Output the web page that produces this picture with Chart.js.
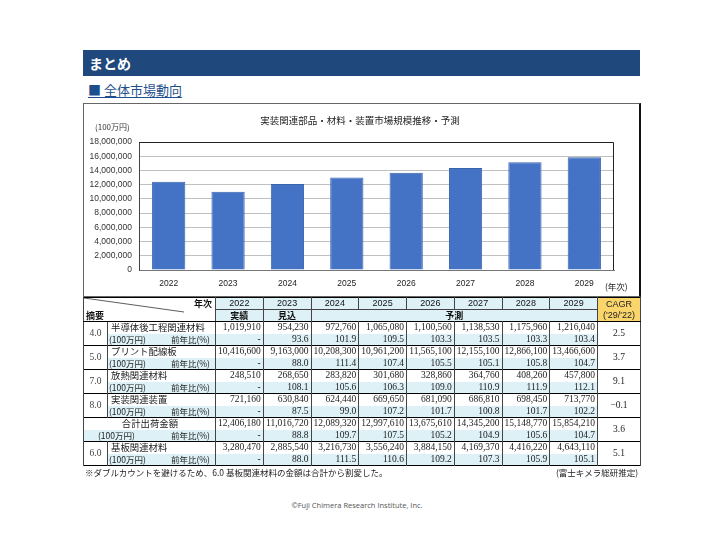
<!DOCTYPE html>
<html><head><meta charset="utf-8">
<script src="https://cdn.jsdelivr.net/npm/chart.js@4/dist/chart.umd.min.js"></script>
<style>
html,body{margin:0;padding:0;background:#fff;}
#page{position:relative;width:720px;height:540px;overflow:hidden;font-family:"Noto Sans CJK JP",sans-serif;}
.abs{position:absolute;white-space:nowrap;}
#bar{left:83px;top:50px;width:557px;height:26px;background:#1f497d;}
#bar span{position:absolute;left:6px;top:3px;color:#fff;font-weight:bold;font-size:14px;line-height:20px;}
#sub{left:88px;top:81px;font-size:13px;line-height:17px;color:#1f4e8c;text-decoration:underline;text-underline-offset:2px;}
#frame{left:83px;top:103px;width:555px;height:192px;border:1px solid #666;border-right:2px solid #111;}
#cv{position:absolute;left:84px;top:104px;}
#ctitle{left:250px;width:220px;text-align:center;top:113px;font-size:9.5px;color:#222;}
#unit{left:95px;top:121px;font-size:8px;color:#333;}
#nenji{left:605px;top:280px;font-size:8.5px;color:#222;}
#tbl{position:absolute;left:83px;top:297px;width:557px;border-collapse:collapse;table-layout:fixed;border:1.5px solid #000;}
#tbl td{padding:0 2px;height:11.5px;line-height:11px;font-size:9px;overflow:hidden;white-space:nowrap;border-left:1px solid #444;border-right:1px solid #444;}
#tbl tr.hr td{height:11px;line-height:11px;}
#tbl td.num{font-family:"Liberation Serif",serif;text-align:right;font-size:9.5px;color:#222;}
#tbl td.yoy{background:#ddf1f7;}
#tbl tr.g1 td{border-top:1.5px solid #000;}
#tbl td.hy{background:#ddf1f7;text-align:center;font-family:"Liberation Sans",Arial,sans-serif;font-size:9px;color:#111;border-bottom:1px solid #444;}
#tbl td.hs{background:#ddf1f7;text-align:center;font-weight:bold;font-size:9px;color:#111;}
#tbl td.cagrh{background:#fad56b;text-align:center;font-family:"Liberation Sans",Arial,sans-serif;font-size:9px;line-height:11px;color:#222;}
#tbl td.cagr{text-align:center;font-family:"Liberation Serif",serif;font-size:9.5px;color:#222;background:#fff;}
#tbl td.gn{text-align:center;font-family:"Liberation Serif",serif;font-size:9.5px;color:#444;}
#tbl td.name{color:#222;font-size:9.4px;padding-left:3px;border-right:1px solid #444;}
#tbl td.unitc{font-size:8.5px;color:#222;padding-left:1px;}
#tbl td.unitc span.r{float:right;padding-right:3px;}
#tbl td.unitc.yoyl{background:#ddf1f7;}
#foot{left:85px;top:466px;font-size:8.5px;color:#222;}
#foot2{left:556px;top:466px;font-size:8.5px;color:#222;}
#copy{left:0;width:714px;text-align:center;top:500px;font-size:7.5px;color:#555;font-family:"Open Sans",sans-serif;}
</style></head>
<body><div id="page">
<div id="bar" class="abs"><span>まとめ</span></div>
<div id="sub" class="abs">■ 全体市場動向</div>
<div id="frame" class="abs"></div>
<canvas id="cv" width="555" height="191"></canvas>
<div id="ctitle" class="abs">実装関連部品・材料・装置市場規模推移・予測</div>
<div id="unit" class="abs">(100万円)</div>
<div id="nenji" class="abs">(年次)</div>
<table id="tbl"></table>
<div id="foot" class="abs">※ダブルカウントを避けるため、6.0 基板関連材料の金額は合計から割愛した。</div>
<div id="foot2" class="abs">(富士キメラ総研推定)</div>
<div id="copy" class="abs">©Fuji Chimera Research Institute, Inc.</div>
</div>
<script>
// ---- data ----
const years = ['2022','2023','2024','2025','2026','2027','2028','2029'];
const statusLabels = ['実績','見込','予測'];
const yTicksMax = 18000000;
const yTicksStep = 2000000;

const semiName = '半導体後工程関連材料';
const semiValues = [1019910, 954230, 972760, 1065080, 1100560, 1138530, 1175960, 1216040];
const semiYoy = [null, 93.6, 101.9, 109.5, 103.3, 103.5, 103.3, 103.4];
const semiCagr = '2.5';

const pcbName = 'プリント配線板';
const pcbValues = [10416600, 9163000, 10208300, 10961200, 11565100, 12155100, 12866100, 13466600];
const pcbYoy = [null, 88.0, 111.4, 107.4, 105.5, 105.1, 105.8, 104.7];
const pcbCagr = '3.7';

const thermalName = '放熱関連材料';
const thermalValues = [248510, 268650, 283820, 301680, 328860, 364760, 408260, 457800];
const thermalYoy = [null, 108.1, 105.6, 106.3, 109.0, 110.9, 111.9, 112.1];
const thermalCagr = '9.1';

const equipName = '実装関連装置';
const equipValues = [721160, 630840, 624440, 669650, 681090, 686810, 698450, 713770];
const equipYoy = [null, 87.5, 99.0, 107.2, 101.7, 100.8, 101.7, 102.2];
const equipCagr = '−0.1';

const totalName = '合計出荷金額';
const totalValues = [12406180, 11016720, 12089320, 12997610, 13675610, 14345200, 15148770, 15854210];
const totalYoy = [null, 88.8, 109.7, 107.5, 105.2, 104.9, 105.6, 104.7];
const totalCagr = '3.6';

const substrateName = '基板関連材料';
const substrateValues = [3280470, 2885540, 3216730, 3556240, 3884150, 4169370, 4416220, 4643110];
const substrateYoy = [null, 88.0, 111.5, 110.6, 109.2, 107.3, 105.9, 105.1];
const substrateCagr = '5.1';

// ---- table ----
const fmt = v => v.toLocaleString('en-US');
const fy = v => v === null ? '-' : v.toFixed(1);
let h = '<colgroup><col style="width:24px"><col style="width:108px">';
for (let i = 0; i < 8; i++) h += '<col style="width:47.75px">';
h += '<col style="width:43px"></colgroup>';
h += '<tr class="hr"><td colspan="2" rowspan="2" style="position:relative;padding:0;height:23px;border-bottom:1.5px solid #000">' +
  '<svg width="132" height="23" style="position:absolute;left:0;top:0"><line x1="0" y1="0" x2="100" y2="14" stroke="#333" stroke-width="0.8"/></svg>' +
  '<span style="position:absolute;right:3px;top:0;font-weight:bold;font-size:9px;line-height:11px;color:#111">年次</span>' +
  '<span style="position:absolute;left:2px;top:12px;font-weight:bold;font-size:9px;line-height:11px;color:#111">摘要</span></td>';
years.forEach(y => h += '<td class="hy">' + y + '</td>');
h += '<td class="cagrh" rowspan="2" style="border-bottom:1.5px solid #000">CAGR<br>(\'29/\'22)</td></tr>';
h += '<tr class="hr"><td class="hs">' + statusLabels[0] + '</td><td class="hs">' + statusLabels[1] + '</td><td class="hs" colspan="6">' + statusLabels[2] + '</td></tr>';
function group(num, name, vals, yoy, cagr, isTotal) {
  let s = '<tr class="g1">';
  if (isTotal) s += '<td colspan="2" class="name" style="text-align:center">' + name + '</td>';
  else s += '<td rowspan="2" class="gn">' + num + '</td><td class="name">' + name + '</td>';
  vals.forEach(v => s += '<td class="num">' + fmt(v) + '</td>');
  s += '<td rowspan="2" class="cagr">' + cagr + '</td></tr><tr>';
  if (isTotal) s += '<td colspan="2" class="unitc yoyl" style="padding-left:14px">(100万円)<span class="r">前年比(%)</span></td>';
  else s += '<td class="unitc yoyl">(100万円)<span class="r">前年比(%)</span></td>';
  yoy.forEach(v => s += '<td class="num yoy">' + fy(v) + '</td>');
  return s + '</tr>';
}
h += group('4.0', semiName, semiValues, semiYoy, semiCagr);
h += group('5.0', pcbName, pcbValues, pcbYoy, pcbCagr);
h += group('7.0', thermalName, thermalValues, thermalYoy, thermalCagr);
h += group('8.0', equipName, equipValues, equipYoy, equipCagr);
h += group('', totalName, totalValues, totalYoy, totalCagr, true);
h += group('6.0', substrateName, substrateValues, substrateYoy, substrateCagr);
document.getElementById('tbl').innerHTML = h;

// ---- chart ----
const frameBorder = {
  id: 'frameBorder',
  afterDraw(c) {
    const a = c.chartArea, ctx = c.ctx;
    ctx.save(); ctx.strokeStyle = '#222'; ctx.lineWidth = 1;
    ctx.beginPath();
    ctx.moveTo(a.left, a.top + 0.5); ctx.lineTo(a.right - 0.5, a.top + 0.5); ctx.lineTo(a.right - 0.5, a.bottom);
    ctx.stroke(); ctx.restore();
  }
};
new Chart(document.getElementById('cv'), {
  type: 'bar',
  data: { labels: years, datasets: [{ data: totalValues, backgroundColor: '#4472c4', borderColor: '#3a63ad', borderWidth: 1, barPercentage: 0.56, categoryPercentage: 1 }] },
  options: {
    responsive: false, animation: false, devicePixelRatio: 1,
    layout: { padding: { top: 38, right: 25, left: 0, bottom: 0 } },
    plugins: { legend: { display: false }, tooltip: { enabled: false } },
    scales: {
      x: {
        grid: { display: false },
        border: { color: '#777' },
        ticks: { font: { size: 8.5, family: 'Liberation Sans' }, color: '#222', padding: 1 },
        afterFit(s) { s.height = 25; }
      },
      y: {
        min: 0, max: yTicksMax,
        ticks: { stepSize: yTicksStep, font: { size: 8.5, family: 'Liberation Sans' }, color: '#333', padding: 7, callback: v => v.toLocaleString('en-US') },
        grid: { color: '#c0c0c0', drawTicks: false },
        border: { color: '#444' },
        afterFit(s) { s.width = 55; }
      }
    }
  },
  plugins: [frameBorder]
});
</script>
</body></html>
